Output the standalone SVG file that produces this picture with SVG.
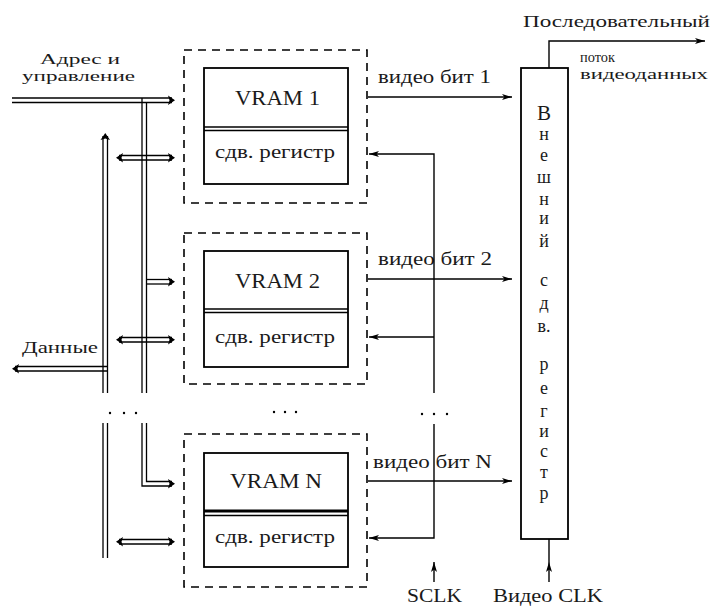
<svg xmlns="http://www.w3.org/2000/svg" width="712" height="608" viewBox="0 0 712 608">
<style>
.t{fill:#1a1a1a;font-family:"Liberation Serif","DejaVu Serif",serif}
.ln{stroke:#000;stroke-width:1.4;fill:none}
.dl{stroke:#000;stroke-width:1.3;fill:none}
.box{stroke:#000;stroke-width:1.8;fill:#fff}
.dash{stroke:#000;stroke-width:1.6;fill:none;stroke-dasharray:8 6}
.hd{fill:#000;stroke:none}
.dot{fill:#000}
</style>
<defs>
<marker id="ah" viewBox="0 0 10 6" refX="10" refY="3" markerWidth="10" markerHeight="6" markerUnits="userSpaceOnUse" orient="auto">
<path d="M0,0 L10,3 L0,6 L2.5,3 z" fill="#000"/>
</marker>
</defs>
<rect width="712" height="608" fill="#fff"/>

<g id="vram1">
<rect class="dash" x="184" y="50" width="183" height="153"/>
<rect class="box" x="204" y="68" width="144" height="116"/>
<line class="ln" x1="204" y1="127" x2="348" y2="127"/>
<line class="ln" x1="204" y1="130.5" x2="348" y2="130.5"/>
<text class="t" x="235" y="105" font-size="22" textLength="85" lengthAdjust="spacingAndGlyphs">VRAM 1</text>
<text class="t" x="215" y="158" font-size="19" textLength="120" lengthAdjust="spacingAndGlyphs">сдв. регистр</text>
</g>

<g id="vram2">
<rect class="dash" x="184" y="233" width="183" height="151"/>
<rect class="box" x="204" y="251" width="144" height="116"/>
<line class="ln" x1="204" y1="309" x2="348" y2="309"/>
<line class="ln" x1="204" y1="312.5" x2="348" y2="312.5"/>
<text class="t" x="235" y="288" font-size="22" textLength="85" lengthAdjust="spacingAndGlyphs">VRAM 2</text>
<text class="t" x="215" y="343" font-size="19" textLength="120" lengthAdjust="spacingAndGlyphs">сдв. регистр</text>
</g>

<g id="vramN">
<rect class="dash" x="184" y="434" width="183" height="153"/>
<rect class="box" x="204" y="453" width="144" height="114"/>
<line stroke="#000" stroke-width="3" x1="204" y1="511" x2="348" y2="511"/>
<line class="ln" x1="204" y1="515.5" x2="348" y2="515.5"/>
<text class="t" x="230" y="488" font-size="22" textLength="92" lengthAdjust="spacingAndGlyphs">VRAM N</text>
<text class="t" x="215" y="543" font-size="19" textLength="120" lengthAdjust="spacingAndGlyphs">сдв. регистр</text>
</g>

<g id="ext-reg">
<rect class="box" x="521" y="68" width="47" height="471"/>
<g class="t" text-anchor="middle" font-size="18">
<text x="544" y="120" font-size="21">В</text>
<text x="544" y="140">н</text>
<text x="544" y="161">е</text>
<text x="544" y="183">ш</text>
<text x="544" y="205">н</text>
<text x="544" y="224">и</text>
<text x="544" y="247">й</text>
<text x="544" y="286">с</text>
<text x="544" y="309">д</text>
<text x="544" y="332">в.</text>
<text x="544" y="370">р</text>
<text x="544" y="394">е</text>
<text x="544" y="417">г</text>
<text x="544" y="437">и</text>
<text x="544" y="457">с</text>
<text x="544" y="478">т</text>
<text x="544" y="499">р</text>
</g>
</g>

<g id="labels">
<text class="t" x="40" y="64" font-size="15" textLength="80" lengthAdjust="spacingAndGlyphs">Адрес и</text>
<text class="t" x="22" y="81" font-size="15" textLength="113" lengthAdjust="spacingAndGlyphs">управление</text>
<text class="t" x="22" y="353" font-size="17" textLength="76" lengthAdjust="spacingAndGlyphs">Данные</text>
<text class="t" x="378" y="83" font-size="18" textLength="113" lengthAdjust="spacingAndGlyphs">видео бит 1</text>
<text class="t" x="378" y="265" font-size="18" textLength="114" lengthAdjust="spacingAndGlyphs">видео бит 2</text>
<text class="t" x="373" y="468" font-size="18" textLength="119" lengthAdjust="spacingAndGlyphs">видео бит N</text>
<text class="t" x="523" y="27" font-size="16" textLength="187" lengthAdjust="spacingAndGlyphs">Последовательный</text>
<text class="t" x="580" y="62" font-size="15" textLength="35" lengthAdjust="spacingAndGlyphs">поток</text>
<text class="t" x="580" y="79" font-size="15" textLength="128" lengthAdjust="spacingAndGlyphs">видеоданных</text>
<text class="t" x="407" y="602" font-size="19" textLength="55" lengthAdjust="spacingAndGlyphs">SCLK</text>
<text class="t" x="493" y="602" font-size="19" textLength="110" lengthAdjust="spacingAndGlyphs">Видео CLK</text>
</g>

<g id="connectors">
<!-- address bus -->
<line class="dl" x1="12" y1="98" x2="172" y2="98"/>
<line class="dl" x1="12" y1="102.5" x2="172" y2="102.5"/>
<polygon class="hd" points="175,100.25 168,95.5 169.5,100.25 168,105"/>
<line class="dl" x1="142" y1="98" x2="142" y2="393"/>
<line class="dl" x1="146.5" y1="102.5" x2="146.5" y2="393"/>
<line class="dl" x1="146.5" y1="279.5" x2="172" y2="279.5"/>
<line class="dl" x1="146.5" y1="284" x2="172" y2="284"/>
<polygon class="hd" points="175,281.75 168,277 169.5,281.75 168,286.5"/>
<polyline class="dl" points="142,423 142,486 172,486"/>
<polyline class="dl" points="146.5,423 146.5,481.5 172,481.5"/>
<polygon class="hd" points="175,483.75 168,479 169.5,483.75 168,488.5"/>

<!-- data bus -->
<line class="dl" x1="103" y1="136" x2="103" y2="393"/>
<line class="dl" x1="107.5" y1="136" x2="107.5" y2="393"/>
<polygon class="hd" points="105.25,133 100.5,140 105.25,138.5 110,140"/>
<line class="dl" x1="103" y1="423" x2="103" y2="558"/>
<line class="dl" x1="107.5" y1="423" x2="107.5" y2="558"/>
<line class="dl" x1="15" y1="366.5" x2="107.5" y2="366.5"/>
<line class="dl" x1="15" y1="371" x2="107.5" y2="371"/>
<polygon class="hd" points="12,368.75 19,364 17.5,368.75 19,373.5"/>

<!-- data branches (bidirectional) -->
<line class="dl" x1="119" y1="155.5" x2="172" y2="155.5"/>
<line class="dl" x1="119" y1="160" x2="172" y2="160"/>
<polygon class="hd" points="175,157.75 168,153 169.5,157.75 168,162.5"/>
<polygon class="hd" points="116,157.75 123,153 121.5,157.75 123,162.5"/>
<line class="dl" x1="119" y1="337.5" x2="172" y2="337.5"/>
<line class="dl" x1="119" y1="342" x2="172" y2="342"/>
<polygon class="hd" points="175,339.75 168,335 169.5,339.75 168,344.5"/>
<polygon class="hd" points="116,339.75 123,335 121.5,339.75 123,344.5"/>
<line class="dl" x1="119" y1="539.5" x2="172" y2="539.5"/>
<line class="dl" x1="119" y1="544" x2="172" y2="544"/>
<polygon class="hd" points="175,541.75 168,537 169.5,541.75 168,546.5"/>
<polygon class="hd" points="116,541.75 123,537 121.5,541.75 123,546.5"/>

<!-- video bit outputs -->
<line class="ln" x1="368" y1="97" x2="512" y2="97" marker-end="url(#ah)"/>
<line class="ln" x1="368" y1="279" x2="512" y2="279" marker-end="url(#ah)"/>
<line class="ln" x1="368" y1="481" x2="512" y2="481" marker-end="url(#ah)"/>

<!-- SCLK distribution -->
<polyline class="ln" points="434,393 434,154 369,154" marker-end="url(#ah)"/>
<line class="ln" x1="434" y1="337" x2="369" y2="337" marker-end="url(#ah)"/>
<polyline class="ln" points="434,424 434,538 369,538" marker-end="url(#ah)"/>
<line class="ln" x1="434" y1="582" x2="434" y2="562" marker-end="url(#ah)"/>

<!-- video CLK -->
<line class="ln" x1="549" y1="539" x2="549" y2="562"/>
<line class="ln" x1="549" y1="582" x2="549" y2="562" marker-end="url(#ah)"/>

<!-- serial output -->
<polyline class="ln" points="549,68 549,41 705,41" marker-end="url(#ah)"/>

<!-- continuation dots -->
<circle class="dot" cx="110" cy="413" r="1.2"/>
<circle class="dot" cx="124" cy="413" r="1.2"/>
<circle class="dot" cx="136" cy="413" r="1.2"/>
<circle class="dot" cx="274" cy="412" r="1.2"/>
<circle class="dot" cx="285" cy="412" r="1.2"/>
<circle class="dot" cx="296" cy="412" r="1.2"/>
<circle class="dot" cx="422" cy="414" r="1.2"/>
<circle class="dot" cx="434" cy="414" r="1.2"/>
<circle class="dot" cx="447" cy="414" r="1.2"/>
</g>
</svg>
